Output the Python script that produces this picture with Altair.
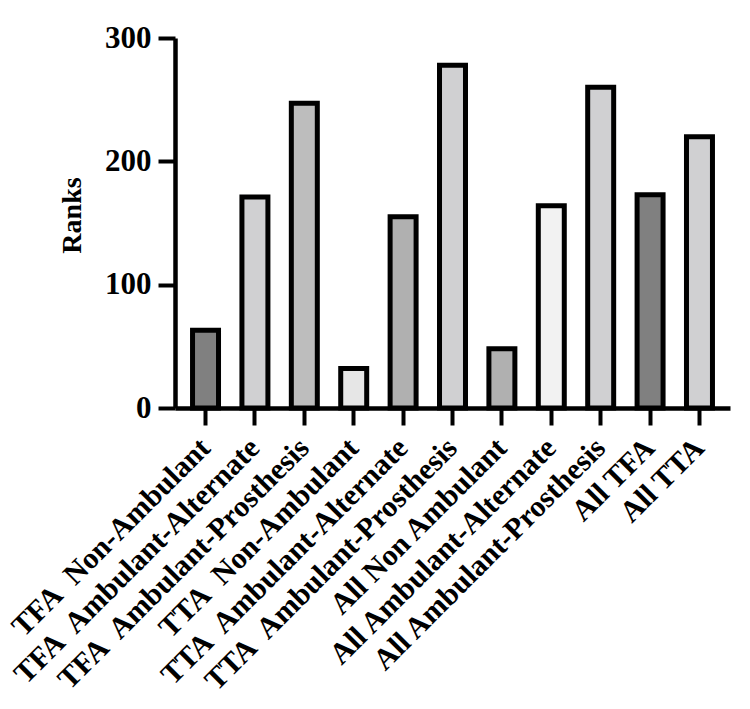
import altair as alt
import pandas as pd

categories = [
    "TFA\u00a0 Non-Ambulant",
    "TFA\u00a0 Ambulant-Alternate",
    "TFA\u00a0 Ambulant-Prosthesis",
    "TTA\u00a0 Non-Ambulant",
    "TTA\u00a0 Ambulant-Alternate",
    "TTA\u00a0 Ambulant-Prosthesis",
    "All Non Ambulant",
    "All Ambulant-Alternate",
    "All Ambulant-Prosthesis",
    "All TFA",
    "All TTA",
]
ranks = [63, 171, 247, 32, 155, 278, 48, 164, 260, 173, 220]
bar_colors = ["#808080", "#d0d0d2", "#bdbdbd", "#e6e6e6", "#b0b0b0", "#d0d0d2",
              "#b0b0b0", "#f2f2f2", "#d0d0d2", "#808080", "#d0d0d2"]

df = pd.DataFrame({"group": categories, "rank": ranks})

FONT = "Liberation Serif"

chart = alt.Chart(df).mark_bar(stroke="black", strokeWidth=5).encode(
    x=alt.X("group:N", sort=None,
            scale=alt.Scale(paddingInner=0.474, paddingOuter=0.355),
            axis=alt.Axis(title=None, labelAngle=-45, labelAlign="right",
                          labelBaseline="middle", labelPadding=18,
                          labelFontSize=30, labelFont=FONT, labelFontWeight="bold",
                          labelColor="black", labelLimit=500,
                          domainColor="black", domainWidth=4.5,
                          tickColor="black", tickWidth=4, tickSize=17)),
    y=alt.Y("rank:Q", scale=alt.Scale(domain=[0, 300], nice=False),
            axis=alt.Axis(title="Ranks", values=[0, 100, 200, 300],
                          titleFont=FONT, titleFontSize=28, titleFontWeight="bold",
                          titleColor="black", titleX=-89, titleY=177,
                          labelFont=FONT, labelFontSize=31, labelFontWeight="bold",
                          labelColor="black", labelPadding=7,
                          domainColor="black", domainWidth=4.5,
                          tickColor="black", tickWidth=4, tickSize=17,
                          grid=False)),
    color=alt.Color("group:N", sort=None,
                    scale=alt.Scale(domain=categories, range=bar_colors),
                    legend=None),
).properties(
    width=555, height=370,
    autosize=alt.AutoSizeParams(type="none"),
    padding={"left": 167, "top": 30, "right": 12, "bottom": 292},
).configure_view(stroke=None)

chart.save("out.html", embed_options={"renderer": "svg", "actions": False})
